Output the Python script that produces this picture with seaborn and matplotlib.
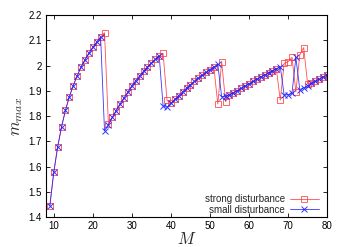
import numpy as np
import pandas as pd
import seaborn as sns
import matplotlib.pyplot as plt
from matplotlib.ticker import MultipleLocator, FuncFormatter

# M values 9..80
M = list(range(9, 81))

# small disturbance (blue)
m_small = [1.445, 1.577, 1.678, 1.758, 1.823, 1.877, 1.921, 1.960, 1.994, 2.023,
           2.049, 2.072, 2.093, 2.113, 1.742, 1.765, 1.795, 1.822, 1.848, 1.872,
           1.895, 1.920, 1.940, 1.959, 1.977, 1.994, 2.010, 2.025, 2.039, 1.840,
           1.835, 1.850, 1.866, 1.881, 1.896, 1.910, 1.924, 1.937, 1.950, 1.962,
           1.973, 1.984, 1.995, 2.005, 1.877, 1.878, 1.884, 1.892, 1.901, 1.910,
           1.919, 1.928, 1.937, 1.946, 1.955, 1.963, 1.971, 1.979, 1.987, 1.996,
           1.883, 1.885, 1.890, 2.032, 1.905, 1.912, 1.920, 1.930, 1.938, 1.946,
           1.955, 1.963]

# strong disturbance (red)
m_strong = [1.445, 1.577, 1.678, 1.758, 1.823, 1.877, 1.921, 1.960, 1.994, 2.023,
            2.049, 2.072, 2.093, 2.113, 2.130, 1.767, 1.795, 1.822, 1.848, 1.872,
            1.895, 1.920, 1.940, 1.959, 1.977, 1.994, 2.010, 2.025, 2.039, 2.048,
            1.863, 1.850, 1.866, 1.881, 1.896, 1.910, 1.924, 1.937, 1.950, 1.962,
            1.973, 1.984, 1.995, 1.848, 2.015, 1.857, 1.884, 1.892, 1.901, 1.910,
            1.919, 1.928, 1.937, 1.946, 1.955, 1.963, 1.971, 1.979, 1.987, 1.863,
            2.009, 2.015, 2.033, 1.896, 2.042, 2.071, 1.928, 1.930, 1.938, 1.946,
            1.955, 1.963]

df = pd.DataFrame({"M": M, "strong": m_strong, "small": m_small})

sns.set_style("ticks")
plt.rcParams['font.family'] = ['Liberation Sans', 'DejaVu Sans']
plt.rcParams['mathtext.fontset'] = 'cm'

fig = plt.figure(figsize=(3.48, 2.47), dpi=100)
ax = fig.add_axes([0.132, 0.121, 0.808, 0.818])

sns.lineplot(data=df, x="M", y="strong", ax=ax, color="#ff3030", lw=0.6,
             marker="s", markersize=5, markerfacecolor="none",
             markeredgecolor="#ff3030", markeredgewidth=0.6, alpha=0.85,
             label="strong disturbance")
sns.lineplot(data=df, x="M", y="small", ax=ax, color="#2020ff", lw=0.6,
             marker="x", markersize=4, markeredgecolor="#2020ff",
             markeredgewidth=0.7, alpha=0.9, label="small disturbance")

ax.set_xlim(8, 80)
ax.set_ylim(1.4, 2.2)
ax.xaxis.set_major_locator(MultipleLocator(10))
ax.yaxis.set_major_locator(MultipleLocator(0.1))
ax.yaxis.set_major_formatter(FuncFormatter(lambda v, p: f"{v:g}"))
ax.tick_params(direction="in", length=3, width=0.6, labelsize=7,
               top=True, right=True, pad=3, colors="black")
for s in ax.spines.values():
    s.set_color("black")
    s.set_linewidth(0.8)

ax.set_xlabel("$M$", fontsize=12, labelpad=0)
ax.set_ylabel("$m_{max}$", fontsize=12, labelpad=2)

ax.legend(loc="lower right", bbox_to_anchor=(0.98, 0.0), frameon=False,
          fontsize=7, markerfirst=False, handlelength=3, handletextpad=0.5,
          labelspacing=0.05, borderpad=0.15, borderaxespad=0.1)

fig.savefig("out.png", dpi=100)
